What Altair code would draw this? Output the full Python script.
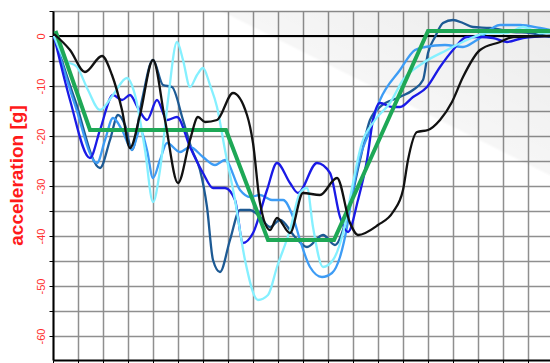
import altair as alt
import pandas as pd

# time axis positions (grid units) and accelerations [g] for each run
black_x = [0.04, 0.68, 1.28, 1.96, 2.36, 2.76, 3.08, 3.48, 4.0, 4.48, 5.0, 5.48, 5.8, 6.08, 6.56,
           7.2, 7.76, 8.0, 8.28, 8.68, 8.96, 9.48, 10.0, 10.68, 11.36, 11.88, 12.2, 13.0, 13.6,
           14.0, 14.2, 14.56, 15.0, 15.48, 15.96, 16.4, 17.08, 17.88, 18.4, 19.88]
black_y = [0.4, -2.8, -7.2, -4.0, -7.8, -14.8, -22.4, -15.8, -4.8, -16.8, -29.4, -20.8, -16.2, -17.2,
           -16.8, -11.4, -15.8, -21.4, -33.4, -38.8, -36.4, -39.4, -31.4, -31.8, -28.4, -37.4, -39.8,
           -37.8, -35.2, -30.8, -24.8, -19.2, -18.8, -16.8, -13.2, -8.2, -2.8, -1.2, -0.2, 0.0]

steel_x = [0.04, 0.88, 1.88, 2.28, 2.6, 2.88, 3.16, 3.56, 4.0, 4.4, 4.76, 5.2, 5.56, 5.88, 6.16,
           6.4, 6.68, 7.08, 7.48, 7.88, 8.28, 8.68, 9.08, 9.68, 10.16, 10.8, 11.28, 11.76, 12.28,
           12.68, 13.08, 13.88, 14.4, 14.8, 15.0, 15.28, 15.6, 16.0, 16.4, 16.8, 17.48, 18.4,
           19.08, 19.88]
steel_y = [0, -12.8, -26.4, -20.8, -15.8, -17.8, -22.8, -12.8, -4.8, -9.8, -10.2, -16.8, -22.8,
           -26.8, -34.2, -44.8, -47.2, -40.8, -34.8, -34.8, -36.2, -38.2, -36.8, -40.2, -42.2,
           -39.8, -41.8, -36.2, -24.8, -16.8, -14.2, -12.2, -10.8, -8.8, -3.4, -0.2, 2.6, 3.2,
           2.6, 1.8, 1.6, 0.8, 0.6, -0.2]

blue_x = [0.04, 0.68, 1.48, 1.88, 2.4, 2.76, 3.08, 3.4, 3.76, 4.16, 4.56, 4.96, 5.48, 6.0, 6.4,
          6.88, 7.28, 7.6, 8.0, 8.56, 8.96, 9.48, 9.8, 10.56, 11.08, 11.48, 11.8, 12.2, 12.56,
          12.8, 13.08, 13.56, 13.88, 14.4, 14.96, 15.48, 16.0, 16.56, 17.08, 17.6, 18.16, 18.8,
          19.88]
blue_y = [0, -12.8, -24.4, -18.8, -11.8, -12.8, -11.8, -14.4, -16.8, -12.8, -16.8, -16.2, -22.2,
          -27.4, -30.4, -30.4, -32.8, -41.4, -39.4, -30.8, -25.4, -29.4, -31.4, -25.4, -27.4,
          -36.2, -39.2, -32.8, -24.8, -16.8, -13.4, -14.2, -14.2, -12.2, -10.2, -6.2, -2.8,
          -0.2, -0.2, -0.4, -1.2, -0.4, 0]

sky_x = [0.04, 0.88, 1.76, 2.08, 2.4, 2.76, 3.16, 3.48, 3.76, 4.0, 4.28, 4.56, 5.08, 5.48, 6.0,
         6.48, 6.88, 7.48, 7.88, 8.28, 8.76, 9.2, 9.6, 9.88, 10.28, 10.76, 11.16, 11.48, 11.76,
         12.0, 12.28, 12.6, 13.08, 13.88, 14.48, 14.88, 15.68, 16.4, 16.96, 17.88, 18.68, 19.48,
         19.88]
sky_y = [0, -13.8, -25.4, -20.8, -16.4, -18.8, -22.8, -18.8, -22.8, -28.4, -24.8, -21.4, -23.2,
         -22.2, -24.2, -25.8, -24.8, -30.8, -32.2, -31.8, -32.8, -32.8, -36.2, -40.8, -46.2,
         -48.2, -47.4, -44.2, -38.2, -30.8, -24.2, -19.8, -12.8, -6.8, -2.8, -2.2, -1.8, -2.2,
         -0.8, 2.2, 2.2, 1.6, 1.2]

cyan_x = [0.04, 0.48, 0.96, 1.4, 1.88, 2.4, 2.96, 3.28, 3.68, 4.0, 4.28, 4.6, 4.96, 5.2, 5.48,
          5.76, 6.0, 6.28, 6.56, 6.88, 7.28, 7.68, 8.2, 8.6, 8.96, 9.48, 9.88, 10.16, 10.4, 10.8,
          11.2, 11.6, 12.0, 12.28, 12.88, 13.48, 14.0, 14.8, 15.76, 16.56, 17.36, 18.16, 18.8,
          19.48, 19.88]
cyan_y = [0, -4.8, -6.2, -10.8, -14.8, -11.8, -8.4, -11.8, -22.8, -33.2, -26.8, -12.8, -1.2,
          -4.8, -10.2, -7.8, -6.4, -9.8, -14.2, -22.8, -32.8, -44.8, -52.8, -51.8, -46.2, -38.8,
          -31.4, -30.4, -38.2, -46.2, -44.8, -39.4, -29.4, -22.8, -16.8, -13.4, -8.8, -5.4, -2.8,
          -0.8, 0.6, 0.6, 1.8, 0.6, 0.6]

# trapezoidal reference corridor
corridor_x = [0.1, 1.48, 6.92, 8.6, 11.24, 15.0, 19.88]
corridor_y = [1.0, -18.8, -18.8, -40.8, -40.8, 1.0, 1.0]

W, H = 497, 349
X_MAX = 19.88
Y_MIN, Y_MAX = -64.8, 5

x_scale = alt.Scale(domain=[0, X_MAX], nice=False, zero=False)
y_scale = alt.Scale(domain=[Y_MIN, Y_MAX], nice=False, zero=False)

x_axis = alt.Axis(
    values=list(range(0, 20)), labels=False, title=None,
    domainColor="black", domainWidth=2, tickColor="black", tickSize=5, tickWidth=1,
    grid=True, gridColor="#8f8f8f", gridWidth=1.5,
)
y_axis = alt.Axis(
    values=list(range(-60, 6, 5)),
    labelExpr="datum.value % 10 == 0 ? '' + datum.value : ''",
    labelAngle=270, labelAlign="center", labelBaseline="bottom", labelPadding=3,
    labelColor="#ff3030", labelFont="Liberation Sans", labelFontSize=11,
    domainColor="black", domainWidth=2, tickColor="black", tickSize=4, tickWidth=1,
    grid=True, gridColor="#8f8f8f", gridWidth=1.5,
    title="acceleration [g]", titleColor="#ff1a1a", titleFont="Liberation Sans",
    titleFontSize=19, titleFontWeight="bold", titleAngle=270,
    titleAlign="center", titleBaseline="middle", titleX=-37, titleY=164,
)


def run_line(xs, ys, color, width, interp="monotone"):
    df = pd.DataFrame({"t": xs, "a": ys, "k": list(range(len(xs)))})
    return alt.Chart(df).mark_line(
        color=color, strokeWidth=width, interpolate=interp, clip=True
    ).encode(
        x=alt.X("t:Q", scale=x_scale, axis=x_axis),
        y=alt.Y("a:Q", scale=y_scale, axis=y_axis),
        order="k:Q",
    )


# soft sheen in the upper right of the plot
sheen = alt.Chart(pd.DataFrame({"s": [0]})).mark_rect(
    fill=alt.Gradient(
        gradient="linear",
        x1=0.414, y1=0.533, x2=0.862, y2=-0.097,
        stops=[
            alt.GradientStop(color="rgba(0,0,0,0)", offset=0),
            alt.GradientStop(color="rgba(0,0,0,0)", offset=0.5),
            alt.GradientStop(color="rgba(0,0,0,0.035)", offset=0.51),
            alt.GradientStop(color="rgba(0,0,0,0.08)", offset=1),
        ],
    )
).encode(x=alt.value(0), x2=alt.value(W), y=alt.value(0), y2=alt.value(H))

zero_line = alt.Chart(pd.DataFrame({"a": [0]})).mark_rule(
    color="black", strokeWidth=2
).encode(y=alt.Y("a:Q", scale=y_scale, axis=y_axis))

chart = alt.layer(
    sheen,
    zero_line,
    run_line(steel_x, steel_y, "#1d5a94", 2.3),
    run_line(sky_x, sky_y, "#3d9cf5", 2.3),
    run_line(blue_x, blue_y, "#1a1ae6", 2.3),
    run_line(cyan_x, cyan_y, "#85f0ff", 2.3),
    run_line(corridor_x, corridor_y, "#1ea856", 4, "linear"),
    run_line(black_x, black_y, "#111111", 2.3),
).properties(
    width=W, height=H,
    autosize=alt.AutoSizeParams(type="none"),
    padding={"left": 53, "top": 11, "right": 0, "bottom": 3},
    background="white",
).configure_view(stroke=None)

chart.save("out.html", embed_options={"renderer": "svg", "actions": False})
